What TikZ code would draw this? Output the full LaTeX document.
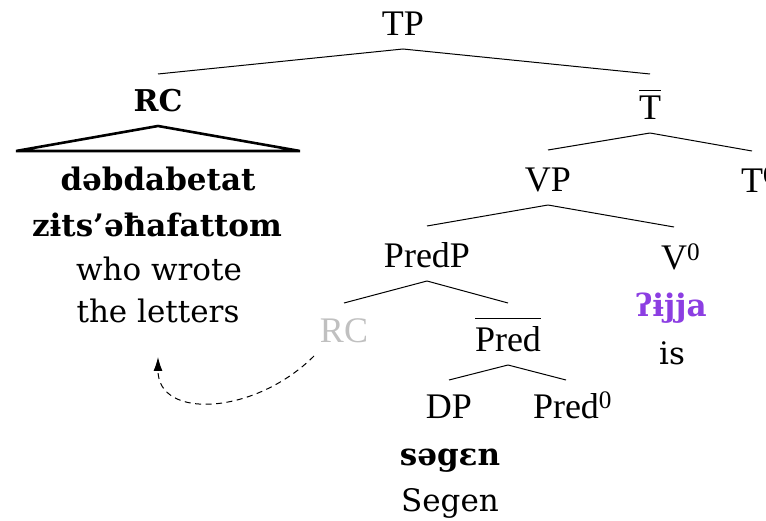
\documentclass[tikz,border=0pt]{standalone}
\usepackage{fontspec}
\setmainfont{Liberation Serif}
\newfontfamily\chfont{DejaVu Serif}
\usetikzlibrary{arrows.meta}
\definecolor{ipapurple}{RGB}{140,62,226}
\definecolor{tracegray}{RGB}{192,192,192}
\newcommand\ovbar[2]{\setbox0=\hbox{#2}\rlap{\raisebox{#1}{\rule{\wd0}{1.1pt}}}\box0}
\tikzset{
  lbl/.style={anchor=base, inner sep=0pt, font=\fontsize{36}{43}\selectfont},
  txt/.style={anchor=base, inner sep=0pt, font=\chfont\fontsize{31}{37}\selectfont},
  btxt/.style={anchor=base, inner sep=0pt, font=\chfont\bfseries\fontsize{31}{37}\selectfont},
  tree/.style={line width=1pt},
  tri/.style={line width=2.6pt, line join=miter},
  trace/.style={dashed, dash pattern=on 6pt off 4.5pt, line width=1pt, -{Latex[length=14pt,width=9pt]}}
}
\begin{document}
\begin{tikzpicture}[x=1pt,y=-1pt]
\useasboundingbox (0,0) rectangle (766,521);
% nodes
\node[lbl] (tp) at (403,36) {TP};
\node[btxt, font=\chfont\bfseries\fontsize{30}{35}\selectfont] (rc) at (158,112) {RC};
\node[lbl] (tbar) at (650,120) {\ovbar{29pt}{T}};
\node[lbl] (vp) at (548,192) {VP};
\node[lbl] (t0) at (752,193) {T\rlap{\textsuperscript{0}}};
\node[lbl] (predp) at (427,268) {PredP};
\node[lbl] (v0) at (674,270) {V\rlap{\textsuperscript{0}}};
\node[lbl, text=tracegray] (rcg) at (344,343) {RC};
\node[lbl] (predbar) at (508,352) {\ovbar{33pt}{Pred}};
\node[btxt, text=ipapurple] (ijja) at (671,317) {ʔɨjja};
\node[txt] (is) at (672,365) {is};
\node[lbl] (dp) at (449,418) {DP};
\node[lbl] (pred0) at (566,418) {Pred\rlap{\textsuperscript{0}}};
\node[btxt] (segen) at (450,465) {səgɛn};
\node[txt] (segeng) at (450,511) {Segen};
\node[btxt] (w1) at (158,191) {dəbdabetat};
\node[btxt] (w2) at (157,237) {zɨts’əħafattom};
\node[txt] (w3) at (159,281) {who wrote};
\node[txt] (w4) at (158,323) {the letters};
% tree lines
\draw[tree] ([yshift=-13pt]tp.base) -- ([yshift=38pt]rc.base);
\draw[tree] ([yshift=-13pt]tp.base) -- ([yshift=46pt]tbar.base);
\draw[tri] ([yshift=-14pt]rc.base) -- ([xshift=-142pt,yshift=-39pt]rc.base) -- ([xshift=142pt,yshift=-39pt]rc.base) -- cycle;
\draw[tree] ([yshift=-13pt]tbar.base) -- ([yshift=42pt]vp.base);
\draw[tree] ([yshift=-13pt]tbar.base) -- ([yshift=42pt]t0.base);
\draw[tree] ([yshift=-13pt]vp.base) -- ([yshift=42pt]predp.base);
\draw[tree] ([yshift=-13pt]vp.base) -- ([yshift=43pt]v0.base);
\draw[tree] ([yshift=-13pt]predp.base) -- ([yshift=40pt]rcg.base);
\draw[tree] ([yshift=-13pt]predp.base) -- ([yshift=49pt]predbar.base);
\draw[tree] ([yshift=-13pt]predbar.base) -- ([yshift=38pt]dp.base);
\draw[tree] ([yshift=-13pt]predbar.base) -- ([yshift=38pt]pred0.base);
% movement arrow
\coordinate (mvs) at ([xshift=-30pt,yshift=-13pt]rcg.base);
\coordinate (mve) at ([yshift=-34pt]w4.base);
\draw[trace] (mvs) .. controls (255,415) and (158,420) .. (mve);
\end{tikzpicture}
\end{document}
